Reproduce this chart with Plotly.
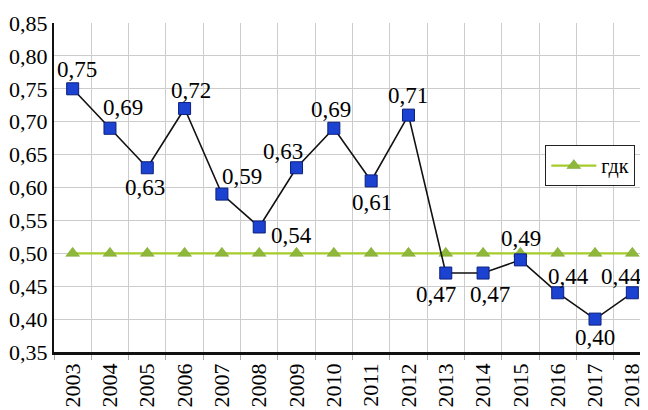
import plotly.graph_objects as go

years = ["2003", "2004", "2005", "2006", "2007", "2008", "2009", "2010",
         "2011", "2012", "2013", "2014", "2015", "2016", "2017", "2018"]
values = [0.75, 0.69, 0.63, 0.72, 0.59, 0.54, 0.63, 0.69,
          0.61, 0.71, 0.47, 0.47, 0.49, 0.44, 0.40, 0.44]
gdk = [0.50] * 16
gdk_name = "гдк"

# label offsets (pixels) relative to each point: style only
label_dx = [4, 13, -2, 6, 20, 32, -14, -3, 1, 0, -10, 7, 1, 11, 0, -11]
label_dy = [-19, -21, 20, -18, -18, 9, -16, -19, 22, -20, 21, 21, -21, -16, 18, -16]

FONT = "Times New Roman, Liberation Serif, serif"

fig = go.Figure()
fig.add_trace(go.Scatter(
    x=years, y=gdk, name=gdk_name, mode="lines+markers",
    line=dict(color="#a6cc2a", width=2.2),
    marker=dict(symbol="triangle-up", size=12, color="#8db83a",
                line=dict(color="#7aa030", width=0.5)),
))
fig.add_trace(go.Scatter(
    x=years, y=values, name="values", mode="lines+markers",
    line=dict(color="#111111", width=1.6),
    marker=dict(symbol="square", size=12, color="#1c42d2",
                line=dict(color="#0b1f7a", width=1)),
    showlegend=False,
))

for i, (v, dx, dy) in enumerate(zip(values, label_dx, label_dy)):
    fig.add_annotation(
        x=i, y=v, xref="x", yref="y",
        text=f"{v:.2f}".replace(".", ","), showarrow=False,
        xanchor="center", yanchor="middle", xshift=dx, yshift=-dy,
        font=dict(family=FONT, size=23, color="#000000"),
    )

fig.update_layout(
    width=648, height=402,
    margin=dict(l=46, r=5, t=15, b=58),
    paper_bgcolor="white", plot_bgcolor="white",
    separators=", ",
    font=dict(family=FONT, size=22, color="#000000"),
    showlegend=True,
    legend=dict(x=0.823, y=0.629, xanchor="left", yanchor="top",
                bgcolor="white", bordercolor="#222222", borderwidth=1,
                font=dict(family=FONT, size=20),
                itemwidth=45, tracegroupgap=0),
)
fig.update_xaxes(
    type="category", tickson="boundaries", showgrid=True,
    gridcolor="#cccccc", gridwidth=1,
    showline=True, linecolor="#111111", linewidth=2.5,
    tickangle=-90, ticks="outside", ticklen=5, tickcolor="#aaaaaa",
    tickfont=dict(family=FONT, size=22),
    range=[-0.5, 15.5], automargin=False,
)
fig.update_yaxes(
    range=[0.35, 0.85], dtick=0.05, tickformat=".2f",
    showgrid=True, gridcolor="#cccccc", gridwidth=1,
    showline=True, linecolor="#111111", linewidth=2,
    ticks="", tickfont=dict(family=FONT, size=22),
    zeroline=False, automargin=False,
)

fig.write_html("out.html")
